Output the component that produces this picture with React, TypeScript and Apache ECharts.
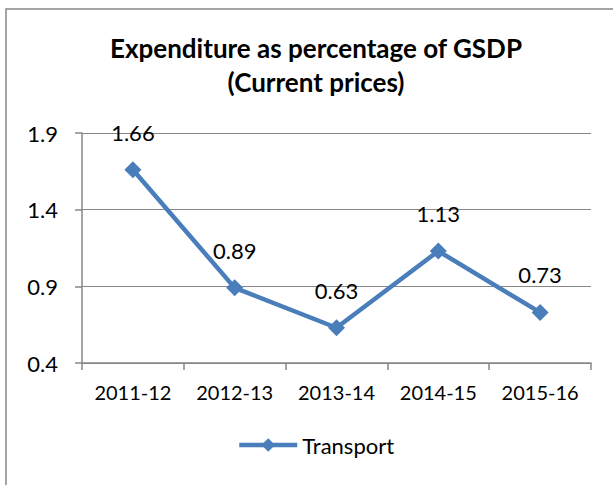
import React, { useEffect, useRef } from "react";
import * as echarts from "echarts";

const categories = ["2011-12", "2012-13", "2013-14", "2014-15", "2015-16"];
const transport = [1.66, 0.89, 0.63, 1.13, 0.73];
const seriesName = "Transport";
const titleText = "Expenditure as percentage of GSDP\n(Current prices)";

const FONT = "Lato, 'Open Sans', 'Noto Sans', sans-serif";
const BLUE = "#4A7EBB";
const GRAY = "#878787";

export default function App() {
  const ref = useRef<HTMLDivElement>(null);
  useEffect(() => {
    if (!ref.current) return;
    const chart = echarts.init(ref.current, null, { renderer: "svg" });
    chart.setOption({
      animation: false,
      backgroundColor: "#ffffff",
      graphic: [
        {
          type: "rect",
          shape: { x: 6, y: 9, width: 700, height: 600 },
          style: { fill: "none", stroke: GRAY, lineWidth: 1.5 },
          silent: true,
        },
      ],
      title: {
        text: titleText,
        left: 311,
        textAlign: "center",
        top: 26,
        textStyle: {
          fontFamily: FONT,
          fontSize: 26,
          fontWeight: "bold",
          color: "#000",
          lineHeight: 34,
        },
      },
      legend: {
        bottom: 24,
        left: 232,
        itemWidth: 58,
        itemHeight: 17,
        itemGap: 4,
        lineStyle: { width: 4.5 },
        textStyle: {
          fontFamily: FONT,
          fontSize: 22,
          fontWeight: "normal",
          color: "#000",
        },
        data: [seriesName],
      },
      grid: { left: 82, right: 22, top: 133, bottom: 122, containLabel: false },
      xAxis: {
        type: "category",
        data: categories,
        boundaryGap: true,
        axisLine: { show: true, lineStyle: { color: GRAY, width: 1.5 } },
        axisTick: { show: true, length: 7, lineStyle: { color: GRAY, width: 1.5 } },
        axisLabel: { fontFamily: FONT, fontSize: 20, color: "#000", margin: 19 },
      },
      yAxis: {
        type: "value",
        min: 0.4,
        max: 1.9,
        interval: 0.5,
        axisLine: { show: true, lineStyle: { color: GRAY, width: 1.5 } },
        axisTick: { show: true, length: 7, lineStyle: { color: GRAY, width: 1.5 } },
        splitLine: { show: true, lineStyle: { color: GRAY, width: 1 } },
        axisLabel: {
          fontFamily: FONT,
          fontSize: 22,
          color: "#000",
          margin: 24,
          formatter: (v: number) => v.toFixed(1),
        },
      },
      series: [
        {
          name: seriesName,
          type: "line",
          data: transport,
          symbol: "diamond",
          symbolSize: 17,
          lineStyle: { color: BLUE, width: 4.5 },
          itemStyle: { color: BLUE },
          label: {
            show: true,
            position: "top",
            distance: 18,
            fontFamily: FONT,
            fontSize: 22,
            color: "#000",
            formatter: (p: any) => p.value.toFixed(2),
          },
        },
      ],
    });
    return () => chart.dispose();
  }, []);
  return (
    <div
      ref={ref}
      style={{ position: "fixed", left: 0, top: 0, width: 613, height: 485 }}
    />
  );
}
